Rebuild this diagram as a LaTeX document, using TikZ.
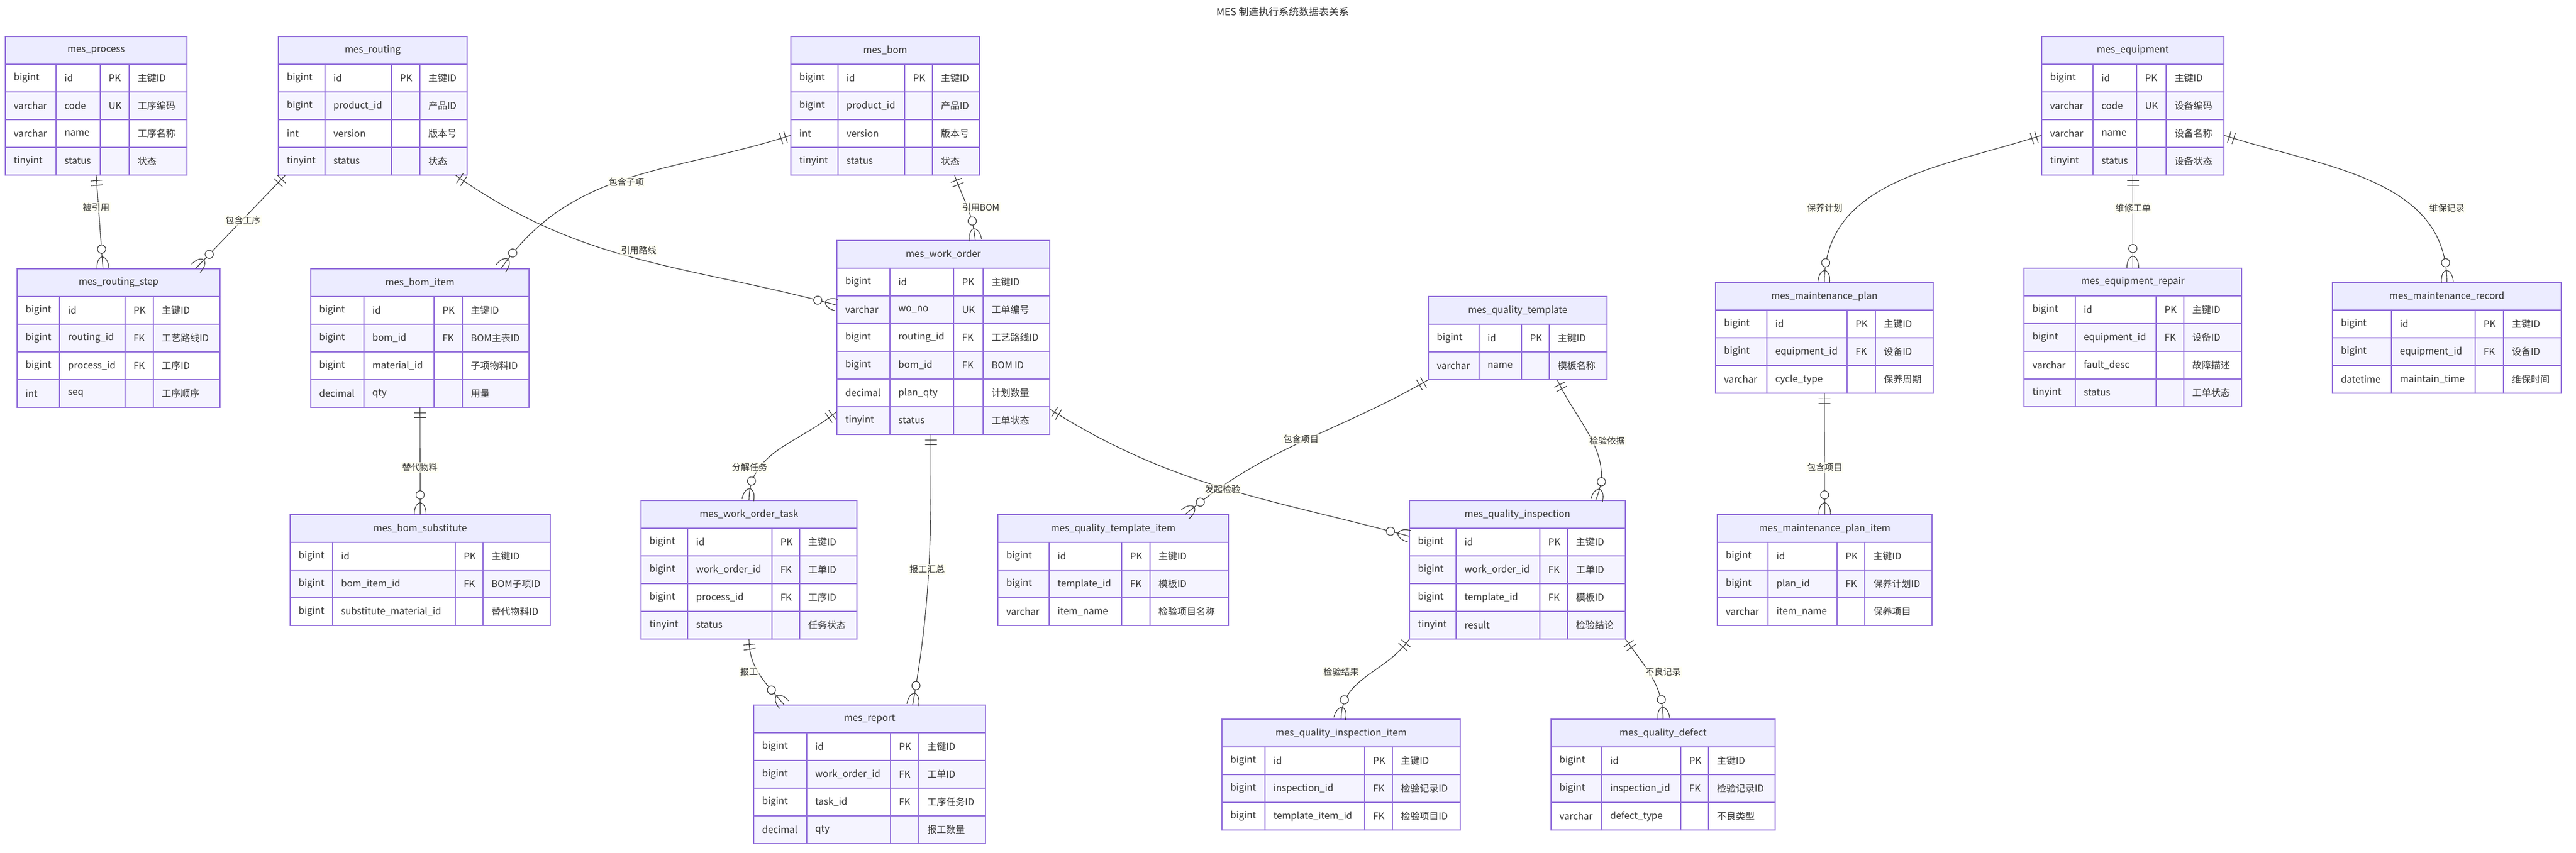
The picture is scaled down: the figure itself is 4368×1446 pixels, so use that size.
\documentclass[tikz,border=0pt]{standalone}
\usepackage{fontspec}
\setmainfont{Noto Sans CJK SC}
\usepackage{tikz}
\usetikzlibrary{calc, fit, decorations.markings}

\definecolor{erhead}{HTML}{ECECFF}
\definecolor{errow}{HTML}{F5F4FF}
\definecolor{erpurple}{HTML}{9370DB}
\definecolor{ertext}{HTML}{333333}
\definecolor{lblbg}{HTML}{FFFFF0}

% #1 name, #2-#6 column edges, #7 top, #8 title, #9 rows
\newcommand{\ertable}[9]{%
  \filldraw[erborder, fill=erhead] (#2,#7) rectangle (#6,#7+47);
  \node[erhdr] (#1-h) at ({(#2+#6)/2},#7+23.5) {#8};
  \foreach \ty/\fn/\ky/\cm [count=\i] in {#9} {
    \pgfmathsetmacro{\ytop}{#7+47*\i}
    \ifodd\i\relax\def\rowfill{white}\else\def\rowfill{errow}\fi
    \filldraw[erborder, fill=\rowfill] (#2,\ytop) rectangle (#6,\ytop+47);
    \draw[erborder] (#3,\ytop) -- ++(0,47) (#4,\ytop) -- ++(0,47) (#5,\ytop) -- ++(0,47);
    \node[ercell] (#1-\i-1) at (#2+14,\ytop+23.5) {\ty};
    \node[ercell] (#1-\i-2) at (#3+14,\ytop+23.5) {\fn};
    \node[ercell] (#1-\i-3) at (#4+14,\ytop+23.5) {\ky};
    \node[ercell] (#1-\i-4) at (#5+14,\ytop+23.5) {\cm};
    \xdef\ernrows{\i}
  }
  \pgfmathsetmacro{\ybot}{#7+47*(\ernrows+1)}
  \node[fit={(#2,#7) (#6,\ybot)}, inner sep=0pt] (#1) {};
}

\begin{document}
\begin{tikzpicture}[x=0.5pt, y=-0.5pt,
    erborder/.style={draw=erpurple, line width=0.7pt},
    ercell/.style={anchor=west, inner sep=0pt, text=ertext,
      font=\fontsize{8pt}{9.6pt}\selectfont},
    erhdr/.style={inner sep=0pt, text=ertext,
      font=\fontsize{8pt}{9.6pt}\selectfont},
    erline/.style={draw=ertext, line width=0.55pt},
    lbl/.style={fill=lblbg, fill opacity=0.7, text opacity=1, text=ertext,
      inner sep=1pt, font=\fontsize{7.5pt}{9pt}\selectfont},
    one/.style={postaction={decorate, decoration={markings,
      mark=at position 4.5pt with {\draw[erline] (0pt,-5pt) -- (0pt,5pt);},
      mark=at position 8.5pt with {\draw[erline] (0pt,-5pt) -- (0pt,5pt);}}}},
    zmany/.style={postaction={decorate, decoration={markings,
      mark=at position -10pt with {
        \draw[erline] (0pt,0pt) .. controls (1pt,4pt) and (6pt,5pt) .. (10pt,5pt);
        \draw[erline] (0pt,0pt) .. controls (1pt,-4pt) and (6pt,-5pt) .. (10pt,-5pt);
        \draw[erline, fill=white] (-6.5pt,0pt) circle (3.5pt);}}}},
    rel/.style={erline, one, zmany}]
  \path[fill=white, use as bounding box] (0,0) rectangle (4368,1446);
  \node[erhdr, font=\fontsize{8.5pt}{10pt}\selectfont] (title) at (2175,20) {MES 制造执行系统数据表关系};

  % tables
  \ertable{process}{9}{95}{170}{219}{317}{62}{mes\_process}
    {bigint/id/PK/主键ID, varchar/code/UK/工序编码, varchar/name/{}/工序名称, tinyint/status/{}/状态}
  \ertable{routing}{472}{551}{664}{712}{792}{62}{mes\_routing}
    {bigint/id/PK/主键ID, bigint/product\_id/{}/产品ID, int/version/{}/版本号, tinyint/status/{}/状态}
  \ertable{bom}{1341}{1421}{1534}{1581}{1661}{62}{mes\_bom}
    {bigint/id/PK/主键ID, bigint/product\_id/{}/产品ID, int/version/{}/版本号, tinyint/status/{}/状态}
  \ertable{equip}{3462}{3549}{3623}{3673}{3771}{62}{mes\_equipment}
    {bigint/id/PK/主键ID, varchar/code/UK/设备编码, varchar/name/{}/设备名称, tinyint/status/{}/设备状态}
  \ertable{rstep}{29}{101}{212}{260}{373}{456}{mes\_routing\_step}
    {bigint/id/PK/主键ID, bigint/routing\_id/FK/工艺路线ID, bigint/process\_id/FK/工序ID, int/seq/{}/工序顺序}
  \ertable{bomitem}{527}{617}{736}{784}{897}{456}{mes\_bom\_item}
    {bigint/id/PK/主键ID, bigint/bom\_id/FK/BOM主表ID, bigint/material\_id/{}/子项物料ID, decimal/qty/{}/用量}
  \ertable{wo}{1419}{1509}{1617}{1667}{1780}{408}{mes\_work\_order}
    {bigint/id/PK/主键ID, varchar/wo\_no/UK/工单编号, bigint/routing\_id/FK/工艺路线ID, bigint/bom\_id/FK/BOM ID, decimal/plan\_qty/{}/计划数量, tinyint/status/{}/工单状态}
  \ertable{tmpl}{2422}{2508}{2580}{2627}{2725}{503}{mes\_quality\_template}
    {bigint/id/PK/主键ID, varchar/name/{}/模板名称}
  \ertable{plan}{2909}{2996}{3132}{3180}{3278}{479}{mes\_maintenance\_plan}
    {bigint/id/PK/主键ID, bigint/equipment\_id/FK/设备ID, varchar/cycle\_type/{}/保养周期}
  \ertable{repair}{3432}{3519}{3656}{3703}{3801}{455}{mes\_equipment\_repair}
    {bigint/id/PK/主键ID, bigint/equipment\_id/FK/设备ID, varchar/fault\_desc/{}/故障描述, tinyint/status/{}/工单状态}
  \ertable{record}{3955}{4055}{4197}{4245}{4343}{479}{mes\_maintenance\_record}
    {bigint/id/PK/主键ID, bigint/equipment\_id/FK/设备ID, datetime/maintain\_time/{}/维保时间}
  \ertable{bomsub}{492}{564}{772}{819}{933}{873}{mes\_bom\_substitute}
    {bigint/id/PK/主键ID, bigint/bom\_item\_id/FK/BOM子项ID, bigint/substitute\_material\_id/{}/替代物料ID}
  \ertable{task}{1087}{1166}{1309}{1356}{1453}{849}{mes\_work\_order\_task}
    {bigint/id/PK/主键ID, bigint/work\_order\_id/FK/工单ID, bigint/process\_id/FK/工序ID, tinyint/status/{}/任务状态}
  \ertable{titem}{1692}{1779}{1902}{1950}{2083}{873}{mes\_quality\_template\_item}
    {bigint/id/PK/主键ID, bigint/template\_id/FK/模板ID, varchar/item\_name/{}/检验项目名称}
  \ertable{insp}{2390}{2469}{2611}{2658}{2756}{849}{mes\_quality\_inspection}
    {bigint/id/PK/主键ID, bigint/work\_order\_id/FK/工单ID, bigint/template\_id/FK/模板ID, tinyint/result/{}/检验结论}
  \ertable{pitem}{2912}{2998}{3115}{3162}{3276}{873}{mes\_maintenance\_plan\_item}
    {bigint/id/PK/主键ID, bigint/plan\_id/FK/保养计划ID, varchar/item\_name/{}/保养项目}
  \ertable{report}{1278}{1368}{1510}{1558}{1671}{1196}{mes\_report}
    {bigint/id/PK/主键ID, bigint/work\_order\_id/FK/工单ID, bigint/task\_id/FK/工序任务ID, decimal/qty/{}/报工数量}
  \ertable{iitem}{2072}{2145}{2314}{2361}{2476}{1220}{mes\_quality\_inspection\_item}
    {bigint/id/PK/主键ID, bigint/inspection\_id/FK/检验记录ID, bigint/template\_item\_id/FK/检验项目ID}
  \ertable{defect}{2630}{2716}{2850}{2897}{3010}{1220}{mes\_quality\_defect}
    {bigint/id/PK/主键ID, bigint/inspection\_id/FK/检验记录ID, varchar/defect\_type/{}/不良类型}

  % relations
  \draw[rel] (process.south) -- ($(rstep.north west)+(146,0)$);
  \draw[rel] ($(routing.south west)+(12,0)$) -- ($(rstep.north west)+(303,0)$);
  \draw[rel] ($(routing.south east)+(-20,0)$) to[out=-35,in=165] ($(wo.north west)+(0,110)$);
  \draw[rel] ($(bom.north west)+(0,168)$) to[out=198,in=55] ($(bomitem.north west)+(323,0)$);
  \draw[rel] ($(bom.south west)+(278,0)$) to[out=-70,in=95] ($(wo.north west)+(235,0)$);
  \draw[rel] (bomitem.south) -- (bomsub.north);
  \draw[rel] ($(wo.south west)+(0,-39)$) to[out=-140,in=90] (task.north);
  \draw[rel] ($(wo.south west)+(160,0)$) to[out=-90,in=80] ($(report.north west)+(270,0)$);
  \draw[rel] (task.south) to[out=-90,in=130] ($(report.north west)+(52,0)$);
  \draw[rel] ($(wo.south east)+(0,-43)$) to[out=-32,in=165] ($(insp.north west)+(0,61)$);
  \draw[rel] (tmpl.south west) to[out=-150,in=40] ($(titem.north west)+(318,0)$);
  \draw[rel] ($(tmpl.south west)+(219,0)$) to[out=-65,in=66] ($(insp.north west)+(316,0)$);
  \draw[rel] (insp.south west) to[out=-125,in=90] (iitem.north);
  \draw[rel] (insp.south east) to[out=-55,in=90] (defect.north);
  \draw[rel] ($(equip.north west)+(0,168)$) to[out=198,in=90] (plan.north);
  \draw[rel] (equip.south) -- (repair.north);
  \draw[rel] ($(equip.north east)+(0,168)$) to[out=-18,in=90] (record.north);
  \draw[rel] (plan.south) -- (pitem.north);

  % relation labels
  \node[lbl] (l1) at (163,352) {被引用};
  \node[lbl] (l2) at (412,374) {包含工序};
  \node[lbl] (l3) at (1083,425) {引用路线};
  \node[lbl] (l4) at (1062,309) {包含子项};
  \node[lbl] (l5) at (1663,352) {引用BOM};
  \node[lbl] (l6) at (712,793) {替代物料};
  \node[lbl] (l7) at (1271,793) {分解任务};
  \node[lbl] (l8) at (1572,966) {报工汇总};
  \node[lbl] (l9) at (1270,1140) {报工};
  \node[lbl] (l10) at (2073,830) {发起检验};
  \node[lbl] (l11) at (2206,745) {包含项目};
  \node[lbl] (l12) at (2725,748) {检验依据};
  \node[lbl] (l13) at (2274,1140) {检验结果};
  \node[lbl] (l14) at (2820,1140) {不良记录};
  \node[lbl] (l15) at (3094,353) {保养计划};
  \node[lbl] (l16) at (3617,353) {维修工单};
  \node[lbl] (l17) at (4149,353) {维保记录};
  \node[lbl] (l18) at (3094,793) {包含项目};
\end{tikzpicture}
\end{document}
